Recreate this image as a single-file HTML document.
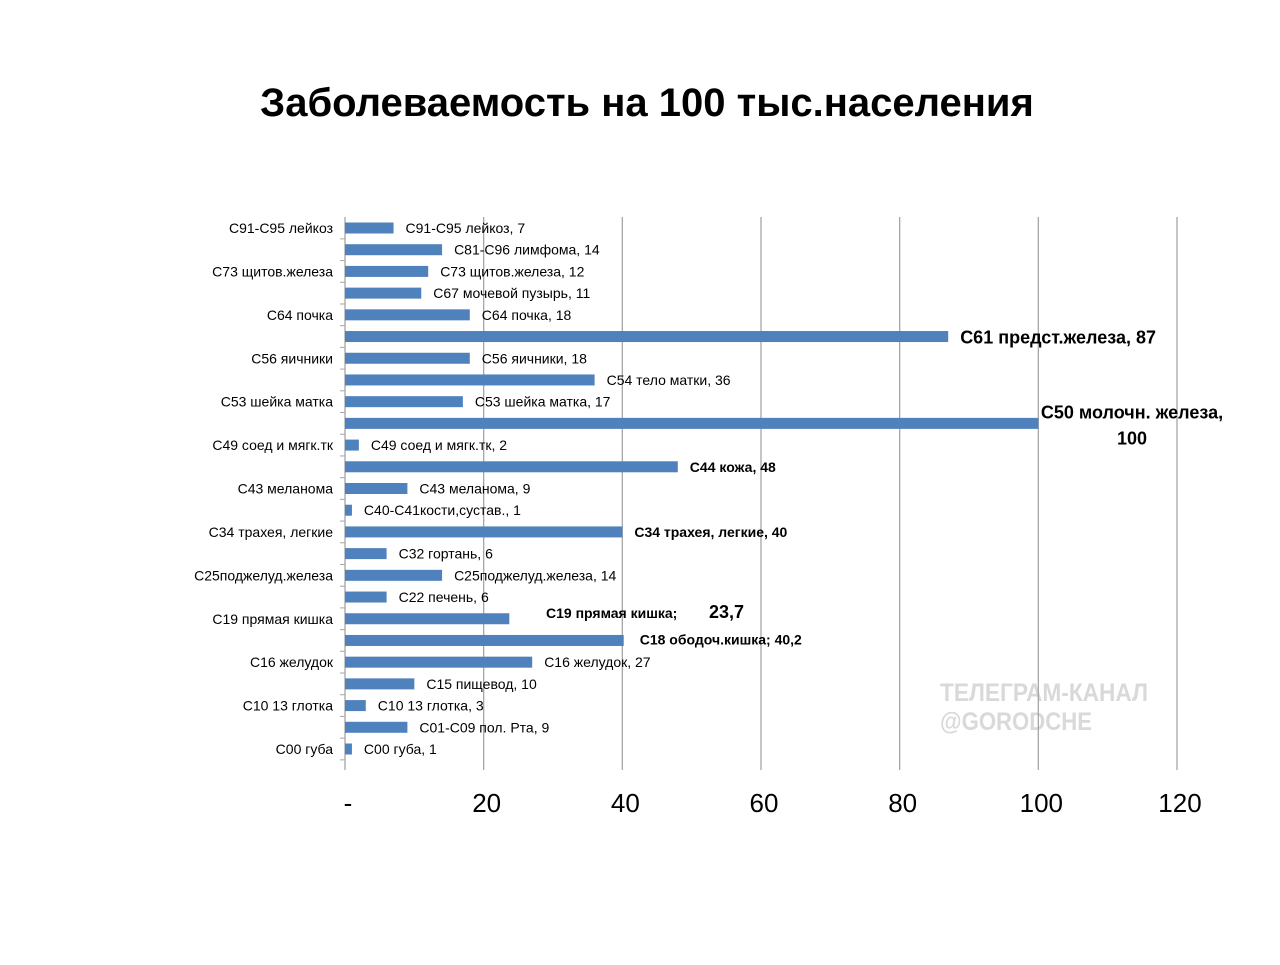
<!DOCTYPE html>
<html><head><meta charset="utf-8"><style>
body{margin:0;background:#fff;}
svg text{font-family:"Liberation Sans",sans-serif;}
</style></head><body>
<svg id="chart" width="1280" height="960" xmlns="http://www.w3.org/2000/svg">
<text x="647" y="116" text-anchor="middle" font-size="40" font-weight="bold" fill="#000">Заболеваемость на 100 тыс.населения</text>
<g fill="#d9d9d9" font-weight="bold" font-size="25">
<text x="940" y="701" textLength="208" lengthAdjust="spacingAndGlyphs">ТЕЛЕГРАМ-КАНАЛ</text>
<text x="940" y="730" textLength="152" lengthAdjust="spacingAndGlyphs">@GORODCHE</text>
</g>
<g id="grid"></g><g id="bars"></g><g id="labels"></g><g id="ylabels"></g><g id="xlabels"></g>
</svg>
<script>
const categories=["С00 губа","С01-С09 пол. Рта","С10 13 глотка","С15 пищевод","С16 желудок","С18 ободоч.кишка","С19 прямая кишка","С22 печень","С25поджелуд.железа","С32 гортань","С34 трахея, легкие","С40-С41кости,сустав.","С43 меланома","С44 кожа","С49 соед и мягк.тк","С50 молочн. железа","С53 шейка матка","С54 тело матки","С56 яичники","С61 предст.железа","С64 почка","С67 мочевой пузырь","С73 щитов.железа","С81-С96 лимфома","С91-С95 лейкоз"];
const values=[1,9,3,10,27,40.2,23.7,6,14,6,40,1,9,48,2,100,17,36,18,87,18,11,12,14,7];
const xTicks=[0,20,40,60,80,100,120];
const xTickLabels=["-","20","40","60","80","100","120"];
const boldLabels=["С18 ободоч.кишка","С19 прямая кишка","С34 трахея, легкие","С44 кожа"];
const bigLabels=["С61 предст.железа","С50 молочн. железа"];
const NS="http://www.w3.org/2000/svg";
const x0=345,x1=1177,yTop=217,yBot=760;
const xs=v=>x0+(v/120)*(x1-x0);
const step=(749-228)/(categories.length-1);
const yc=i=>749-i*step;
const fmt=v=>String(v).replace('.',',');
function mk(t,a,p,txt){const e=document.createElementNS(NS,t);for(const k in a)e.setAttribute(k,a[k]);if(txt!==undefined)e.textContent=txt;p.appendChild(e);return e;}
const grid=document.getElementById('grid'),bars=document.getElementById('bars'),labels=document.getElementById('labels'),yl=document.getElementById('ylabels'),xl=document.getElementById('xlabels');
xTicks.forEach((t,i)=>{
 if(i>0){const g=mk('line',{x1:xs(t),x2:xs(t),y1:yTop,y2:yBot+10,stroke:'#a6a6a6','stroke-width':1.3},grid);
 
 }
 const tl=mk('text',{x:i==0?xs(t)+3:xs(t)+3,y:812,'text-anchor':'middle','font-size':26,fill:'#000'},xl,xTickLabels[i]);
 
 
});
const ax=mk('line',{x1:x0,x2:x0,y1:yTop,y2:yBot+10,stroke:'#a6a6a6','stroke-width':1.3},grid);


categories.forEach((c,i)=>{
 const v=values[i],y=yc(i);
 const tk=mk('line',{x1:x0-5,x2:x0,y1:y+step/2,y2:y+step/2,stroke:'#a6a6a6'},grid);
 
 
 const b=mk('rect',{x:x0,y:y-5.5,width:xs(v)-x0,height:11,fill:'#4f81bd'},bars);
 
 
 if(i%2==0){const t=mk('text',{x:333,y:y+5,'text-anchor':'end','font-size':14,fill:'#000'},yl,c);
 
 }
 let lab;
 if(bigLabels.indexOf(c)==1){
  lab=mk('text',{x:1132,y:y-5,'text-anchor':'middle','font-size':18,'font-weight':'bold',fill:'#000'},labels);
  mk('tspan',{x:1132,dy:0},lab,c+',');mk('tspan',{x:1132,dy:26},lab,fmt(v));
 }else if(bigLabels.indexOf(c)==0){
  lab=mk('text',{x:xs(v)+12,y:y+7,'font-size':18,'font-weight':'bold',fill:'#000'},labels,c+',  '+fmt(v));
 }else if(c=="С19 прямая кишка"){
  lab=mk('text',{x:546,y:y-1,'font-size':14,'font-weight':'bold',fill:'#000'},labels);
  mk('tspan',{},lab,c+';');mk('tspan',{x:709,'font-size':18},lab,fmt(v));
 }else if(c=="С18 ободоч.кишка"){
  lab=mk('text',{x:xs(v)+16,y:y+4,'font-size':14,'font-weight':'bold',fill:'#000'},labels,c+';  '+fmt(v));
 }else{
  const bold=boldLabels.indexOf(c)>=0;
  lab=mk('text',{x:xs(v)+12,y:y+5,'font-size':14,'font-weight':bold?'bold':'normal',fill:'#000'},labels,c+',  '+fmt(v));
 }
 
 
});
</script>
</body></html>
